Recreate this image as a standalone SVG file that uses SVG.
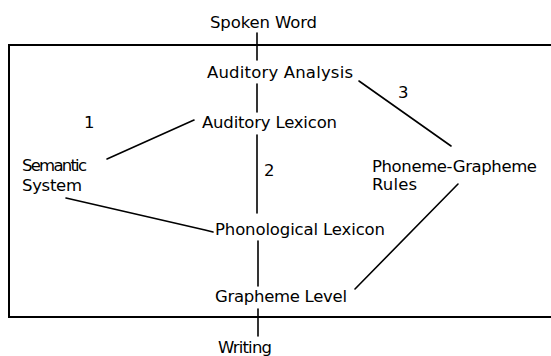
<svg xmlns="http://www.w3.org/2000/svg" width="551" height="356" viewBox="0 0 551 356">
<style>
text{font-family:"DejaVu Sans","Liberation Sans",sans-serif;font-size:16.5px;fill:#000}
.frame{fill:none;stroke:#000;stroke-width:2}
.c{fill:none;stroke:#000;stroke-width:1.6;stroke-linecap:round}
</style>
<rect width="551" height="356" fill="#fff"/>
<polyline class="frame" points="553,45 9,45 9,317 553,317"/>
<g id="connectors">
<line class="c" x1="257" y1="33" x2="257" y2="60"/>
<line class="c" x1="257" y1="84" x2="257" y2="112"/>
<line class="c" x1="257" y1="135" x2="257" y2="213"/>
<line class="c" x1="258" y1="241" x2="258" y2="286"/>
<line class="c" x1="258" y1="309" x2="258" y2="336"/>
<line class="c" x1="107" y1="159" x2="194" y2="120"/>
<polyline class="c" points="66,198 205,230 213,232"/>
<line class="c" x1="359" y1="81" x2="451" y2="146"/>
<line class="c" x1="458" y1="184" x2="355" y2="289"/>
</g>
<g id="spoken-word"><text x="210" y="28" textLength="107">Spoken Word</text></g>
<g id="auditory-analysis"><text x="207" y="78" textLength="146">Auditory Analysis</text></g>
<g id="auditory-lexicon"><text x="202" y="128" textLength="135">Auditory Lexicon</text></g>
<g id="label-1"><text x="84" y="128">1</text></g>
<g id="label-2"><text x="264" y="176">2</text></g>
<g id="label-3"><text x="398" y="98">3</text></g>
<g id="semantic-system"><text x="22" y="171" textLength="65">Semantic</text><text x="22" y="191" textLength="60">System</text></g>
<g id="phoneme-grapheme-rules"><text x="372" y="172" textLength="165">Phoneme-Grapheme</text><text x="372" y="190" textLength="45">Rules</text></g>
<g id="phonological-lexicon"><text x="215" y="235" textLength="170">Phonological Lexicon</text></g>
<g id="grapheme-level"><text x="215" y="302" textLength="132">Grapheme Level</text></g>
<g id="writing"><text x="218" y="353" textLength="54">Writing</text></g>
</svg>
